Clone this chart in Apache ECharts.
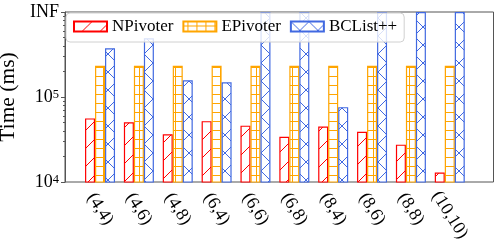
<!DOCTYPE html>
<html>
<head>
<meta charset="utf-8">
<script src="https://cdn.jsdelivr.net/npm/echarts@6/dist/echarts.min.js"></script>
<style>
html,body{margin:0;padding:0;background:#fff;}
#chart{width:499px;height:252px;}
</style>
</head>
<body>
<div id="chart"></div>
<script>
const categories = ['(4,4)','(4,6)','(4,8)','(6,4)','(6,6)','(6,8)','(8,4)','(8,6)','(8,8)','(10,10)'];
const seriesNames = ['NPivoter','EPivoter','BCList++'];
const nPivoter = [56000, 50500, 36500, 52000, 46000, 34000, 45000, 39000, 27500, 12900];
const ePivoter = [233000, 233000, 233000, 233000, 233000, 233000, 233000, 233000, 233000, 233000];
const bcList   = [375000, 490000, 157000, 149000, 1000000, 1000000, 76000, 1000000, 1000000, 1000000];
const yTickValues = [10000, 100000, 1000000];
const yTickLabels = ['10{sup|4}', '10{sup|5}', 'INF'];
const yMin = 10000, yMax = 1000000;

const minorTicks = [];
for (let d = 10000; d < yMax; d *= 10) {
  for (let k = 2; k <= 9; k++) minorTicks.push(d * k);
}

function hatch(kind, color) {
  const s = kind === 'grid' ? 9 : 18;
  const c = document.createElement('canvas');
  c.width = s; c.height = s;
  const g = c.getContext('2d');
  g.fillStyle = '#fff'; g.fillRect(0, 0, s, s);
  g.strokeStyle = color; g.lineWidth = 1;
  g.beginPath();
  if (kind === 'grid') { g.moveTo(0, 4.5); g.lineTo(s, 4.5); g.moveTo(4.5, 0); g.lineTo(4.5, s); }
  if (kind === 'fwd' || kind === 'cross') { g.moveTo(-1, s + 1); g.lineTo(s + 1, -1); }
  if (kind === 'cross') { g.moveTo(-1, -1); g.lineTo(s + 1, s + 1); }
  g.stroke();
  return { image: c, repeat: 'repeat' };
}

const colors = ['#ff0000', '#ffa500', '#4169e1'];
const kinds = ['fwd', 'grid', 'cross'];
const values = [nPivoter, ePivoter, bcList];

const font = 'Liberation Serif';
const axisColor = '#555';

const chart = echarts.init(document.getElementById('chart'), null, { renderer: 'canvas' });

const series = seriesNames.map((name, i) => ({
  name: name,
  type: 'bar',
  xAxisIndex: 1,
  yAxisIndex: 2,
  barWidth: 10,
  barGap: '0%',
  data: values[i],
  itemStyle: { color: hatch(kinds[i], colors[i]), borderColor: colors[i], borderWidth: 1.2 },
  emphasis: { disabled: true },
  animation: false
}));

chart.setOption({
  animation: false,
  textStyle: { fontFamily: font },
  grid: [
    { left: 65, right: 5.5, top: 12, bottom: 70, show: true, borderColor: axisColor, borderWidth: 1,
      backgroundColor: 'transparent', outerBoundsMode: 'none' },
    { left: 80.6, width: 388.6, top: 12, bottom: 70, outerBoundsMode: 'none' }
  ],
  legend: {
    data: seriesNames,
    left: 66, top: 13,
    orient: 'horizontal',
    icon: 'rect',
    itemWidth: 33, itemHeight: 10, itemGap: 9,
    padding: [5, 7, 7, 7],
    backgroundColor: 'rgba(255,255,255,0.8)',
    borderColor: '#d0d0d0', borderWidth: 1, borderRadius: 4,
    textStyle: { fontFamily: font, fontSize: 17, color: '#000' },
    selectedMode: false
  },
  xAxis: [
    { type: 'category', gridIndex: 0, data: categories, show: false },
    { type: 'category', gridIndex: 1, data: categories, position: 'bottom',
      axisLine: { show: false }, axisTick: { show: false },
      axisLabel: { interval: 0, rotate: -58, align: 'center', verticalAlign: 'middle', margin: 27,
        fontFamily: font, fontSize: 18, color: '#000',
        formatter: v => v === '(10,10)' ? '' : v } },
    { type: 'category', gridIndex: 1, data: categories, position: 'bottom',
      axisLine: { show: false }, axisTick: { show: false },
      axisLabel: { interval: 0, rotate: -58, align: 'center', verticalAlign: 'middle', margin: 33,
        fontFamily: font, fontSize: 18, color: '#000',
        formatter: v => v === '(10,10)' ? v : '' } }
  ],
  yAxis: [
    { type: 'log', gridIndex: 0, min: yMin, max: yMax, logBase: 10,
      name: 'Time (ms)', nameLocation: 'middle', nameGap: 40,
      nameTextStyle: { fontFamily: font, fontSize: 21.5, color: '#000' },
      axisLine: { show: true, lineStyle: { color: axisColor, width: 1 } },
      axisTick: { show: true, length: 4, lineStyle: { color: axisColor } },
      splitLine: { show: false },
      axisLabel: { margin: 6, fontFamily: font, fontSize: 18, color: '#000',
        formatter: v => { const i = yTickValues.findIndex(t => Math.abs(t - v) / t < 1e-6); return i >= 0 ? yTickLabels[i] : ''; },
        rich: { sup: { fontSize: 12.5, fontFamily: font, color: '#000', verticalAlign: 'top', lineHeight: 12, padding: [0, 0, 6, 0] } } } },
    { type: 'log', gridIndex: 0, min: yMin, max: yMax, logBase: 10, position: 'left',
      axisLine: { show: false }, splitLine: { show: false }, axisLabel: { show: false },
      axisTick: { show: true, length: 2, customValues: minorTicks, lineStyle: { color: axisColor } } },
    { type: 'log', gridIndex: 1, min: yMin, max: yMax, logBase: 10, show: false }
  ],
  series: series
});
</script>
</body>
</html>
